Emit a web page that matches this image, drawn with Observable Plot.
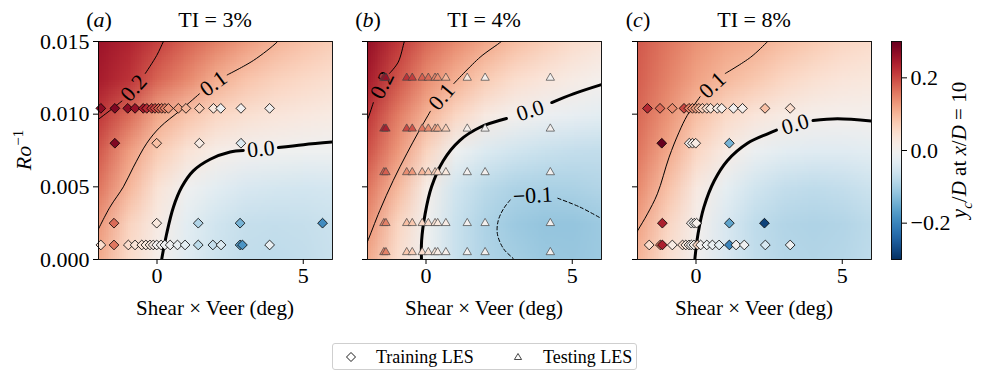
<!DOCTYPE html>
<html><head><meta charset="utf-8">
<script src="https://cdn.jsdelivr.net/npm/d3@7"></script>
<script src="https://cdn.jsdelivr.net/npm/@observablehq/plot@0.6"></script>
<style>
body{margin:0;background:#fff;}
#wrap{position:relative;width:997px;height:375px;font-family:"Liberation Serif","DejaVu Serif",serif;color:#000;overflow:hidden;}
.abs{position:absolute;white-space:nowrap;line-height:1;}
.c{transform:translate(-50%,-50%);}
.rot{transform:translate(-50%,-50%) rotate(-90deg);}
</style></head><body><div id="wrap"></div>
<script>
// ---------- data ----------
const xTicks = [0, 5];
const yTicks = [0, 0.005, 0.010, 0.015];
const cbTicks = [-0.2, 0, 0.2];
const titles = ["TI = 3%", "TI = 4%", "TI = 8%"];
const letters = ["a", "b", "c"];

// field grid nodes: columns x = -2..6 (step 1), rows y = 0.015 .. 0 (step 0.0025, top to bottom)
const fieldA = [
  [0.255, 0.235, 0.205, 0.175, 0.15, 0.125, 0.102, 0.085, 0.07],
  [0.245, 0.22, 0.175, 0.145, 0.11, 0.085, 0.068, 0.056, 0.047],
  [0.215, 0.17, 0.115, 0.085, 0.06, 0.045, 0.035, 0.028, 0.022],
  [0.185, 0.125, 0.075, 0.04, 0.015, 0.0, -0.005, -0.008, -0.01],
  [0.16, 0.1, 0.04, -0.007, -0.03, -0.045, -0.05, -0.052, -0.05],
  [0.13, 0.065, 0.02, -0.03, -0.055, -0.068, -0.07, -0.068, -0.062],
  [0.11, 0.052, 0.008, -0.035, -0.06, -0.072, -0.075, -0.072, -0.065]
];
const fieldB = [
  [0.26, 0.215, 0.17, 0.14, 0.115, 0.09, 0.07, 0.05, 0.035],
  [0.245, 0.19, 0.14, 0.105, 0.075, 0.05, 0.035, 0.02, 0.006],
  [0.215, 0.155, 0.103, 0.06, 0.025, 0.003, -0.012, -0.022, -0.03],
  [0.19, 0.13, 0.063, -0.008, -0.04, -0.055, -0.065, -0.07, -0.072],
  [0.16, 0.097, 0.015, -0.055, -0.08, -0.093, -0.096, -0.094, -0.088],
  [0.135, 0.063, -0.005, -0.065, -0.093, -0.108, -0.115, -0.115, -0.108],
  [0.11, 0.048, -0.01, -0.065, -0.09, -0.1, -0.11, -0.112, -0.108]
];
const fieldC = [
  [0.185, 0.16, 0.135, 0.118, 0.107, 0.09, 0.075, 0.06, 0.05],
  [0.18, 0.15, 0.12, 0.097, 0.08, 0.06, 0.045, 0.035, 0.03],
  [0.172, 0.135, 0.09, 0.055, 0.035, 0.02, 0.01, 0.006, 0.006],
  [0.16, 0.115, 0.06, 0.02, -0.015, -0.03, -0.035, -0.035, -0.03],
  [0.142, 0.088, 0.025, -0.025, -0.055, -0.07, -0.075, -0.07, -0.06],
  [0.12, 0.062, 0.008, -0.045, -0.075, -0.088, -0.092, -0.088, -0.078],
  [0.1, 0.047, -0.002, -0.045, -0.072, -0.085, -0.088, -0.085, -0.075]
];

// contour lines: [x, Ro^-1, segment]
const contA02 = [[-2.1,0.0095,1],[-1.61,0.01025,1],[-1.2,0.0109,1],[-0.4,0.0128,2],[-0.01,0.01404,2],[0.22,0.015,2],[0.3,0.0153,2]];
const contA01 = [[-2.1,0.0017,1],[-1.61,0.0036,1],[-1.15,0.0050,1],[-0.81,0.00635,1],[-0.35,0.0080,1],[0.1,0.0091,1],[0.79,0.01025,1],[1.45,0.0114,1],
                 [2.4,0.0127,2],[3.3,0.0137,2],[4.1,0.01495,2],[4.2,0.0152,2]];
const contA00 = [[0.14,-0.0003,1],[0.16,0,1],[0.33,0.00177,1],[0.56,0.0036,1],[0.85,0.0050,1],[1.24,0.0061,1],[1.82,0.0069,1],[2.5,0.0074,1],[2.95,0.0075,1],
                 [4.15,0.0077,2],[5.01,0.0079,2],[6.1,0.0081,2]];
const contB02 = [[-0.7,0.0152,1],[-0.74,0.015,1],[-0.95,0.01358,1],[-1.25,0.0128,1],[-1.8,0.0108,2],[-2.01,0.00956,2],[-2.1,0.0092,2]];
const contB01 = [[2.65,0.0152,1],[2.57,0.015,1],[1.85,0.01392,1],[0.95,0.0121,1],
                 [0.15,0.0102,2],[-0.26,0.00876,2],[-0.66,0.00727,2],[-1.12,0.00544,2],[-1.58,0.00337,2],[-2.01,0.00119,2],[-2.1,0.0008,2]];
const contB00 = [[-0.15,-0.0003,1],[-0.15,0.0013,1],[-0.03,0.00314,1],[0.19,0.005,1],[0.59,0.0068,1],[1.16,0.0082,1],[1.85,0.0091,1],[2.75,0.0097,1],
                 [4.3,0.0108,2],[5.04,0.0114,2],[6.1,0.0121,2]];
const contBm01 = [[6.1,0.0027,1],[5.27,0.0036,1],[4.47,0.00424,1],
                  [2.88,0.0041,2],[2.65,0.00349,2],[2.47,0.00268,2],[2.44,0.00177,2],[2.65,0.00074,2],[3.01,0,2],[3.1,-0.0003,2]];
const contC01 = [[2.55,0.0152,1],[2.45,0.015,1],[1.87,0.01392,1],[1.0,0.0128,1],
                 [0.14,0.0112,2],[-0.3,0.00991,2],[-0.58,0.00876,2],[-0.92,0.00704,2],[-1.32,0.00452,2],[-1.66,0.00314,2],[-1.99,0.002,2],[-2.1,0.0016,2]];
const contC00 = [[-0.05,-0.0003,1],[-0.04,0,1],[0.07,0.00177,1],[0.27,0.0036,1],[0.62,0.0054,1],[1.07,0.0068,1],[1.76,0.008,1],[2.45,0.00865,1],[2.75,0.0089,1],
                 [4.0,0.00956,2],[4.84,0.00968,2],[6.1,0.0095,2]];

// contour labels: [x, Ro^-1, text]
const labA = [[-0.8,0.0118,"0.2"],[1.93,0.0121,"0.1"],[3.55,0.0076,"0.0"]];
const labB = [[-1.5,0.0120,"0.2"],[0.54,0.0112,"0.1"],[3.56,0.01025,"0.0"],[3.65,0.0044,"−0.1"]];
const labC = [[0.56,0.0120,"0.1"],[3.39,0.0093,"0.0"]];
const rotA = [-48, -36, -5];
const rotB = [-63, -50, -18, -3];
const rotC = [-43, -16];

// training LES (diamonds): [x, Ro^-1, yc/D]
const trainA = [
  [-1.92,0.0104,0.27],[-1.44,0.0104,0.28],[-1.0,0.0104,0.27],[-0.75,0.0104,0.26],[-0.47,0.0104,0.25],[-0.35,0.0104,0.23],[-0.18,0.0104,0.21],
  [-0.07,0.0104,0.2],[0.05,0.0104,0.18],[0.16,0.0104,0.16],[0.27,0.0104,0.15],[0.39,0.0104,0.13],[0.73,0.0104,0.12],[0.99,0.0104,0.1],
  [1.45,0.0104,0.07],[1.93,0.0104,0.03],[2.18,0.0104,-0.01],[2.87,0.0104,0.0],[3.85,0.0104,0.0],
  [-1.44,0.008,0.28],[-0.01,0.008,0.09],[1.45,0.008,0.02],[2.87,0.008,-0.04],
  [-1.47,0.0025,0.17],[-0.01,0.0025,0.03],[1.41,0.0025,-0.09],[2.84,0.0025,-0.14],[5.66,0.0025,-0.19],
  [-1.92,0.001,0.05],[-1.47,0.001,0.16],[-0.98,0.001,0.05],[-0.75,0.001,0.04],[-0.52,0.001,0.04],[-0.38,0.001,0.03],[-0.24,0.001,0.03],
  [-0.13,0.001,0.02],[-0.01,0.001,0.0],[0.14,0.001,0.0],[0.27,0.001,-0.01],[0.45,0.001,-0.01],[0.7,0.001,-0.02],[0.96,0.001,-0.03],
  [1.41,0.001,-0.08],[1.91,0.001,-0.07],[2.19,0.001,-0.04],[2.84,0.001,-0.16],[2.92,0.001,-0.18],[3.85,0.001,-0.02]
];
const trainC = [
  [-1.66,0.0104,0.23],[-1.23,0.0104,0.17],[-0.81,0.0104,0.14],[-0.41,0.0104,0.2],[-0.24,0.0104,0.15],[-0.12,0.0104,0.13],[-0.01,0.0104,0.12],
  [0.1,0.0104,0.1],[0.22,0.0104,0.07],[0.37,0.0104,0.05],[0.5,0.0104,0.03],[0.73,0.0104,0.02],[0.88,0.0104,0.01],[1.28,0.0104,0.0],
  [1.59,0.0104,0.01],[2.36,0.0104,0.09],[3.22,0.0104,0.05],
  [-1.17,0.008,0.3],[-0.23,0.008,0.0],[-0.12,0.008,0.01],[-0.01,0.008,0.02],[1.14,0.008,-0.14],
  [-1.15,0.0025,0.24],[-0.16,0.0025,0.0],[-0.06,0.0025,0.0],[0.02,0.0025,0.01],[1.14,0.0025,-0.16],[2.34,0.0025,-0.28],
  [-1.6,0.001,0.05],[-1.22,0.001,0.15],[-1.15,0.001,0.24],[-0.81,0.001,0.02],[-0.46,0.001,0.05],[-0.35,0.001,0.03],[-0.24,0.001,0.02],
  [-0.16,0.001,0.0],[-0.07,0.001,0.01],[0.05,0.001,0.06],[0.16,0.001,0.0],[0.37,0.001,-0.01],[0.56,0.001,-0.02],[0.79,0.001,-0.03],
  [1.14,0.001,-0.2],[1.37,0.001,0.0],[1.65,0.001,-0.01],[2.37,0.001,-0.05],[3.22,0.001,-0.01]
];
// testing LES (triangles) for TI = 4%
const testX = [-1.44,-1.37,-0.66,-0.47,-0.13,0.08,0.31,0.4,0.68,1.41,2.02,4.25];
const testRo = [0.0125, 0.009, 0.006, 0.0025, 0.0005];
const testV = [
  [0.26,0.26,0.22,0.21,0.18,0.17,0.15,0.14,0.1,0.03,0.01,0.0],
  [0.24,0.24,0.2,0.19,0.16,0.14,0.12,0.11,0.07,0.01,0.0,0.0],
  [0.18,0.18,0.14,0.13,0.1,0.08,0.07,0.06,0.03,0.0,0.0,0.0],
  [0.15,0.15,0.09,0.08,0.06,0.05,0.04,0.03,0.02,0.0,0.0,0.0],
  [0.15,0.15,0.08,0.07,0.05,0.04,0.03,0.02,0.01,0.0,0.0,0.0]
];

// ---------- drawing ----------
const FONT = '"Liberation Serif","DejaVu Serif",serif';
const wrap = document.getElementById("wrap");
const colorScale = {type: "linear", scheme: "RdBu", reverse: true, domain: [-0.3, 0.3]};
const toPts = a => a.map(([x, y, s]) => ({x, y, s}));
const toLab = (a, r) => a.map(([x, y, t], i) => ({x, y, t, r: r[i]}));
const toDots = a => a.map(([x, y, v]) => ({x, y, v}));
const testB = testRo.flatMap((ro, j) => testX.map((x, i) => ({x, y: ro, v: testV[j][i]})));

function lineMark(d, w, dash) {
  return Plot.line(toPts(d), {x: "x", y: "y", z: "s", curve: "catmull-rom", stroke: "black",
    strokeWidth: w, strokeDasharray: dash, clip: true});
}

function panel(field, lines, labels, dots, showY) {
  return Plot.plot({
    width: 342, height: 375, marginLeft: 98, marginRight: 10, marginTop: 41, marginBottom: 116,
    style: {background: "transparent", fontFamily: FONT, fontSize: "22px", color: "black", overflow: "visible"},
    x: {domain: [-2, 6], ticks: xTicks, tickSize: 5, tickPadding: 3, label: null},
    y: {domain: [0, 0.015], ticks: yTicks, tickSize: 5, tickPadding: 4,
        tickFormat: showY ? d3.format(".3f") : () => "", label: null},
    color: colorScale,
    marks: [
      Plot.raster(field.flat(), {width: 9, height: 7, x1: -2.5, x2: 6.5, y1: 0.01625, y2: -0.00125,
        fill: d => d, imageRendering: "auto", clip: true}),
      ...lines,
      Plot.text(labels, {x: "x", y: "y", text: "t", rotate: "r", fontSize: 22, fill: "black",
        fontFamily: FONT, textAnchor: "middle", lineAnchor: "middle"}),
      ...dots,
      Plot.frame({stroke: "black", strokeWidth: 0.9})
    ]
  });
}

const pA = panel(fieldA,
  [lineMark(contA02, 1), lineMark(contA01, 1), lineMark(contA00, 3)],
  toLab(labA, rotA),
  [Plot.dot(toDots(trainA), {x: "x", y: "y", fill: "v", symbol: "diamond2", r: 4.4, stroke: "black", strokeWidth: 0.8})],
  true);
const pB = panel(fieldB,
  [lineMark(contB02, 1), lineMark(contB01, 1), lineMark(contB00, 3), lineMark(contBm01, 1, "3.5,2.5")],
  toLab(labB, rotB),
  [Plot.dot(testB, {x: "x", y: "y", fill: "v", symbol: "triangle", r: 3.1, stroke: "#444", strokeWidth: 0.7})],
  false);
const pC = panel(fieldC,
  [lineMark(contC01, 1), lineMark(contC00, 3)],
  toLab(labC, rotC),
  [Plot.dot(toDots(trainC), {x: "x", y: "y", fill: "v", symbol: "diamond2", r: 4.4, stroke: "black", strokeWidth: 0.8})],
  false);

const cb = Plot.plot({
  width: 90, height: 375, marginLeft: 10, marginRight: 70, marginTop: 41, marginBottom: 116,
  style: {background: "transparent", fontFamily: FONT, fontSize: "22px", color: "black", overflow: "visible"},
  x: {domain: [0, 1], axis: null},
  y: {domain: [-0.3, 0.3], ticks: cbTicks, tickFormat: d3.format(".1f"), axis: "right", tickSize: 5, tickPadding: 4, label: null},
  color: colorScale,
  marks: [
    Plot.raster({x1: 0, x2: 1, y1: -0.3, y2: 0.3, fill: (x, y) => y, pixelSize: 1}),
    Plot.frame({stroke: "black", strokeWidth: 0.9})
  ]
});

const lefts = [0, 269, 539];
[pA, pB, pC].forEach((svg, i) => {
  svg.style.position = "absolute"; svg.style.left = lefts[i] + "px"; svg.style.top = "0px";
  wrap.appendChild(svg);
});
cb.style.position = "absolute"; cb.style.left = "881px"; cb.style.top = "0px";
wrap.appendChild(cb);

// ---------- text overlays ----------
function addText(html, x, y, cls, size) {
  const d = document.createElement("div");
  d.className = "abs " + cls;
  d.style.left = x + "px"; d.style.top = y + "px";
  d.style.fontSize = (size || 22) + "px";
  d.innerHTML = html;
  wrap.appendChild(d);
}
const frameL = [98, 367, 637];
frameL.forEach((l, i) => {
  addText("(<i>" + letters[i] + "</i>)", l + 1, 20, "c");
  addText(titles[i], l + 117, 20, "c");
  addText("Shear × Veer (deg)", l + 117, 308, "c", 21);
});
addText("<i>Ro</i><sup style='font-size:15px'>−1</sup>", 23, 150, "rot");
addText("<i>y</i><sub style='font-size:15px'><i>c</i></sub>/<i>D</i> at <i>x</i>/<i>D</i> = 10", 962, 150, "rot", 21);

// legend
const leg = document.createElement("div");
leg.className = "abs";
leg.style.cssText += "left:332px;top:343px;width:303px;height:25px;border:1.2px solid #cfcfcf;border-radius:3px;font-size:18px;";
leg.innerHTML =
  "<svg width='303' height='25' style='position:absolute;left:0;top:0'>" +
  "<path d='M18,8.5L22.5,13L18,17.5L13.5,13Z' fill='white' stroke='black' stroke-width='0.9'/>" +
  "<path d='M185,9.5L188.6,15.5L181.4,15.5Z' fill='none' stroke='#333' stroke-width='0.9'/></svg>" +
  "<span style='position:absolute;left:43px;top:4px'>Training LES</span>" +
  "<span style='position:absolute;left:210px;top:4px'>Testing LES</span>";
wrap.appendChild(leg);
</script></body></html>
